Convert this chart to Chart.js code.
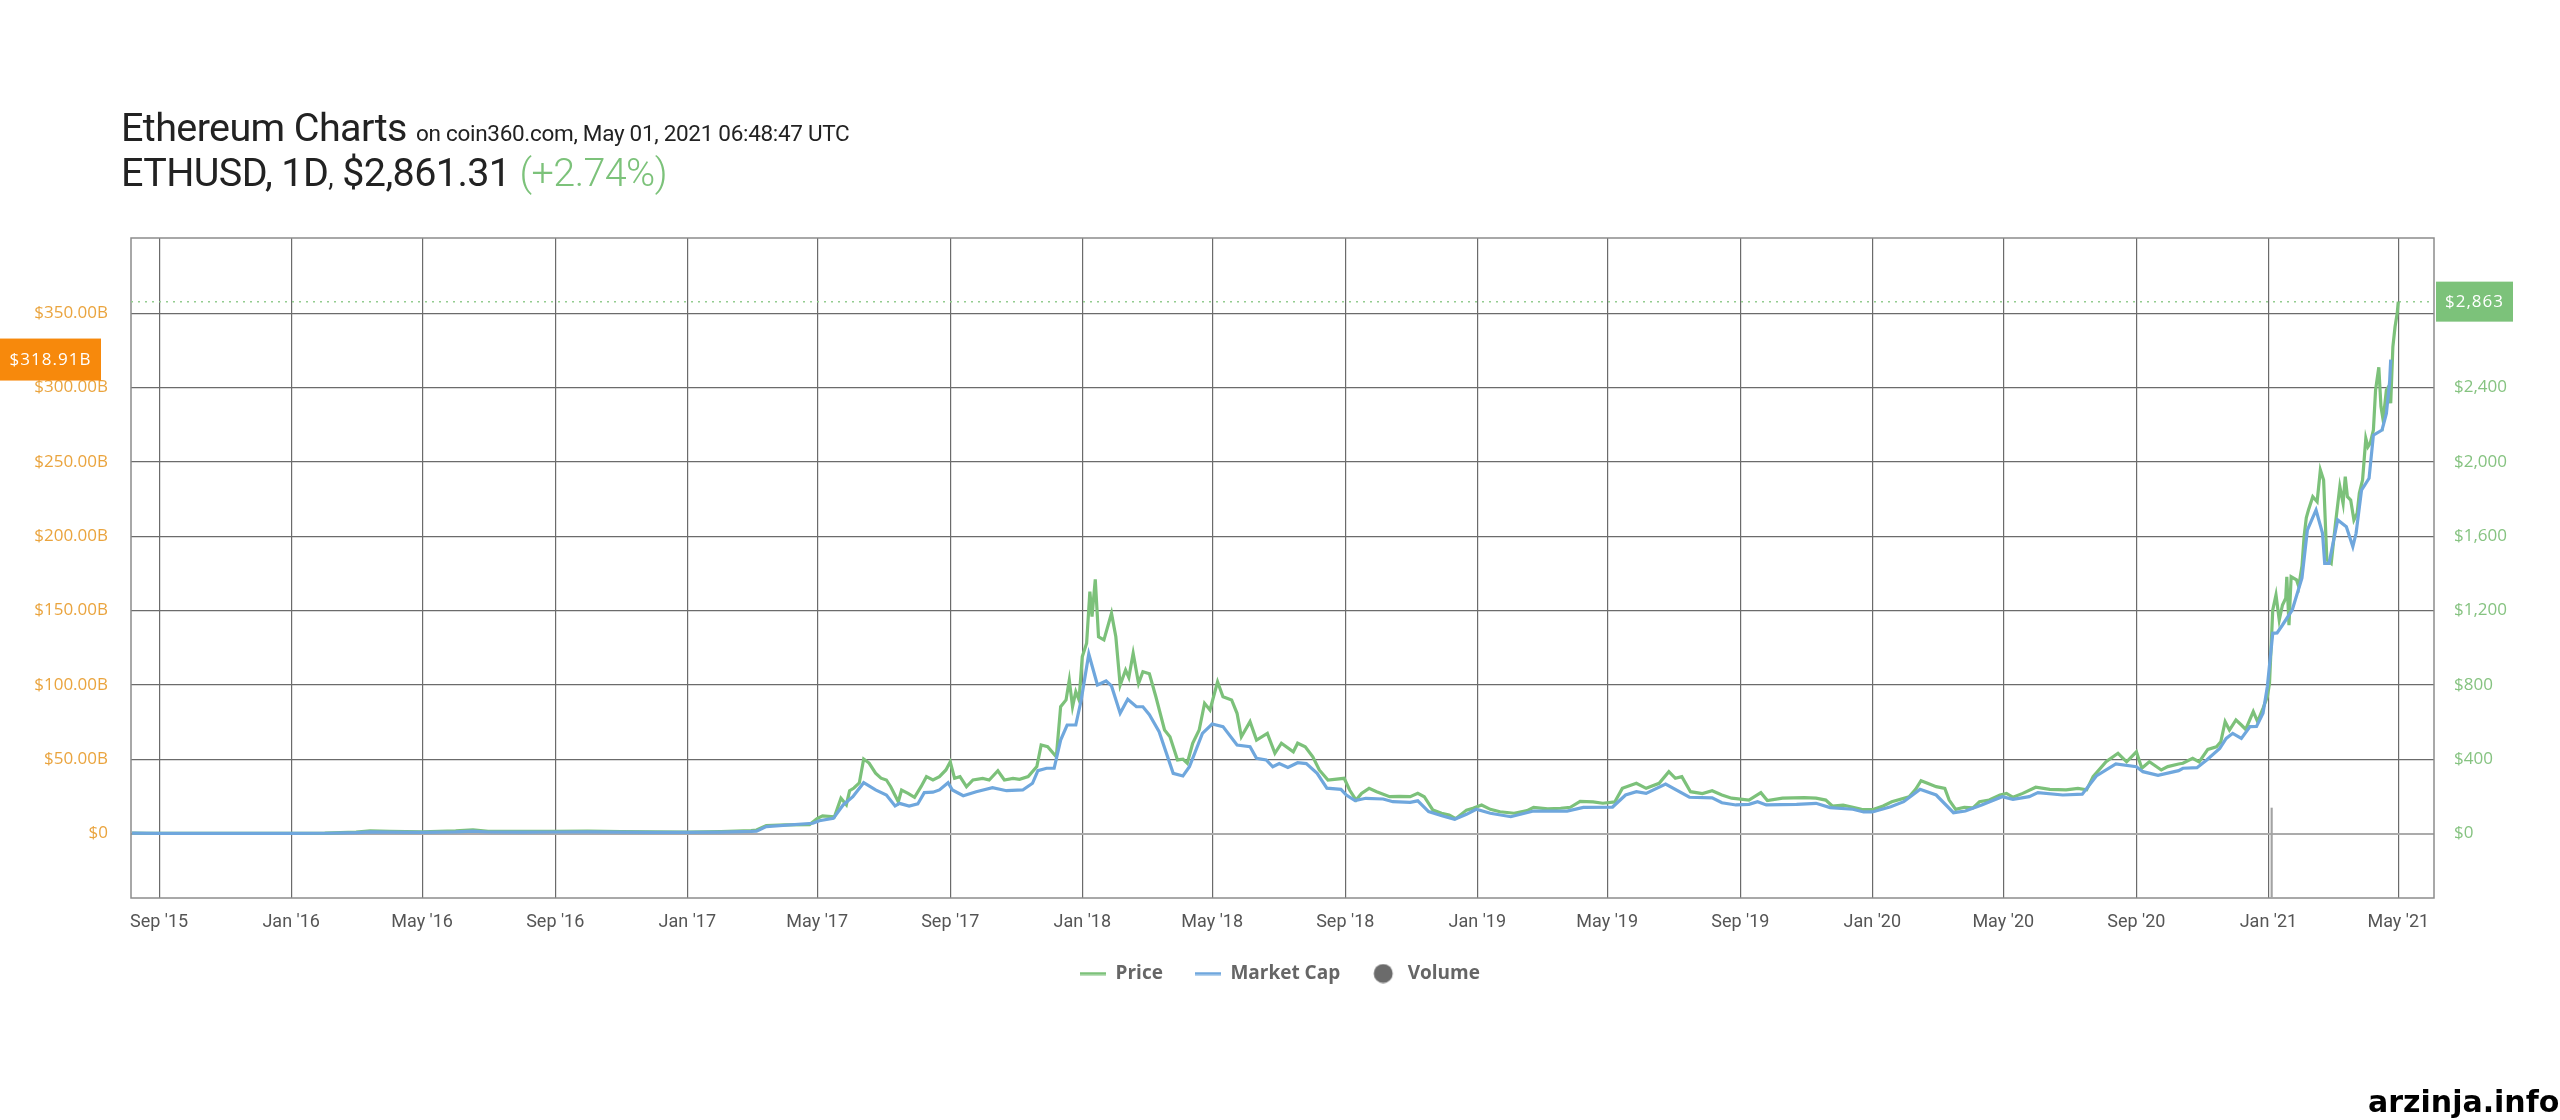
<!DOCTYPE html>
<html>
<head>
<meta charset="utf-8">
<title>Ethereum Charts</title>
<script src="https://cdn.jsdelivr.net/npm/chart.js@4.4.1/dist/chart.umd.min.js"></script>
<style>
  body { margin: 0; background: #fff; }
  #wrap { position: relative; width: 2560px; height: 1120px; overflow: hidden; }
  #chartBox { position: absolute; left: 0; top: 0; width: 2560px; height: 1120px; }
  .head { position: absolute; left: 121px; font-family: Roboto, sans-serif; font-size: 39.5px; line-height: 41px; color: #222; letter-spacing: -0.6px; white-space: nowrap; }
  .head small { font-size: 22.5px; letter-spacing: -0.3px; }
  .up { color: #7cc27a; font-weight: 300; }
  #mark { position: absolute; left: 2368px; top: 1087px; font-family: "DejaVu Sans", sans-serif; font-weight: bold; font-size: 30px; line-height: 30px; color: #000; }
</style>
</head>
<body>
<div id="wrap">
  <div id="chartBox"><canvas id="myChart"></canvas></div>
  <div class="head" style="top:107px">Ethereum Charts <small>on coin360.com, May 01, 2021 06:48:47 UTC</small></div>
  <div class="head" style="top:152px">ETHUSD, 1D<span style="font-size:27px">,</span> $2,861.31 <span class="up">(+2.74%)</span></div>
  <div id="mark">arzinja.info</div>
</div>
<script>
// price, USD per ETH
var priceDates = [
  '2015-08-07','2015-08-20','2015-09-01','2015-10-01','2015-11-01','2015-12-01','2016-01-01','2016-02-01',
  '2016-03-01','2016-03-14','2016-04-01','2016-05-01','2016-06-01','2016-06-17','2016-07-01','2016-08-01',
  '2016-09-01','2016-10-01','2016-11-01','2016-12-01','2017-01-01','2017-02-01','2017-03-01','2017-03-06',
  '2017-03-15','2017-04-02','2017-04-24','2017-05-01','2017-05-06','2017-05-17','2017-05-23','2017-05-28',
  '2017-05-31','2017-06-04','2017-06-09','2017-06-13','2017-06-18','2017-06-24','2017-06-29','2017-07-04',
  '2017-07-08','2017-07-15','2017-07-18','2017-07-24','2017-07-30','2017-08-05','2017-08-10','2017-08-16',
  '2017-08-22','2017-08-28','2017-09-01','2017-09-05','2017-09-10','2017-09-16','2017-09-22','2017-10-01',
  '2017-10-07','2017-10-15','2017-10-21','2017-10-29','2017-11-04','2017-11-12','2017-11-20','2017-11-24',
  '2017-11-30','2017-12-08','2017-12-12','2017-12-17','2017-12-20','2017-12-23','2017-12-26','2017-12-29',
  '2018-01-01','2018-01-05','2018-01-08','2018-01-10','2018-01-13','2018-01-16','2018-01-21','2018-01-28',
  '2018-02-01','2018-02-05','2018-02-10','2018-02-13','2018-02-17','2018-02-22','2018-02-26','2018-03-04',
  '2018-03-10','2018-03-18','2018-03-23','2018-03-30','2018-04-04','2018-04-08','2018-04-13','2018-04-19',
  '2018-04-24','2018-04-29','2018-05-06','2018-05-11','2018-05-19','2018-05-24','2018-05-28','2018-06-05',
  '2018-06-11','2018-06-21','2018-06-28','2018-07-04','2018-07-15','2018-07-19','2018-07-26','2018-08-02',
  '2018-08-08','2018-08-16','2018-08-31','2018-09-05','2018-09-11','2018-09-16','2018-09-23','2018-09-30',
  '2018-10-12','2018-10-21','2018-10-31','2018-11-07','2018-11-13','2018-11-21','2018-11-29','2018-12-06',
  '2018-12-12','2018-12-22','2018-12-28','2019-01-05','2019-01-13','2019-01-22','2019-02-04','2019-02-16',
  '2019-02-22','2019-03-07','2019-03-19','2019-03-28','2019-04-06','2019-04-18','2019-04-27','2019-05-08',
  '2019-05-15','2019-05-28','2019-06-06','2019-06-18','2019-06-27','2019-07-03','2019-07-09','2019-07-17',
  '2019-07-28','2019-08-06','2019-08-15','2019-08-24','2019-09-09','2019-09-20','2019-09-26','2019-10-10',
  '2019-10-30','2019-11-10','2019-11-19','2019-11-25','2019-12-05','2019-12-14','2019-12-22','2020-01-01',
  '2020-01-11','2020-01-19','2020-02-04','2020-02-10','2020-02-15','2020-02-21','2020-02-29','2020-03-08',
  '2020-03-12','2020-03-18','2020-03-26','2020-04-03','2020-04-09','2020-04-18','2020-04-28','2020-05-04',
  '2020-05-10','2020-05-19','2020-05-31','2020-06-13','2020-06-28','2020-07-09','2020-07-17','2020-07-23',
  '2020-08-04','2020-08-15','2020-08-23','2020-09-01','2020-09-06','2020-09-13','2020-09-24','2020-09-30',
  '2020-10-10','2020-10-14','2020-10-23','2020-10-29','2020-11-06','2020-11-14','2020-11-18','2020-11-22',
  '2020-11-26','2020-12-02','2020-12-07','2020-12-11','2020-12-18','2020-12-22','2020-12-27','2020-12-31',
  '2021-01-02','2021-01-05','2021-01-08','2021-01-11','2021-01-14','2021-01-17','2021-01-18','2021-01-20',
  '2021-01-22','2021-01-27','2021-01-29','2021-02-01','2021-02-03','2021-02-05','2021-02-07','2021-02-11',
  '2021-02-15','2021-02-18','2021-02-21','2021-02-24','2021-02-28','2021-03-04','2021-03-08','2021-03-11',
  '2021-03-13','2021-03-15','2021-03-18','2021-03-21','2021-03-24','2021-03-26','2021-03-29','2021-04-01',
  '2021-04-03','2021-04-05','2021-04-08','2021-04-10','2021-04-13','2021-04-15','2021-04-17','2021-04-20',
  '2021-04-22','2021-04-24','2021-04-26','2021-04-28','2021-04-30','2021-05-01'
];
var priceValues = [
  2.8, 1.4, 1.3, 0.7, 1.0, 0.9, 0.95, 2.3,
  7.5, 14.5, 11.5, 8.9, 13.8, 20, 12, 11,
  12, 13, 10.8, 8.3, 8.2, 10.7, 16, 19,
  43, 46, 48, 80, 95, 90, 190, 155,
  230, 245, 273, 401, 379, 325, 298, 288,
  252, 171, 234, 216, 195, 252, 306, 288,
  306, 342, 386, 297, 306, 252, 288, 297,
  288, 338, 288, 297, 292, 306, 360, 476,
  467, 413, 683, 719, 826, 683, 763, 719,
  952, 1024, 1302, 1167, 1368, 1059, 1042, 1185,
  1059, 799, 880, 840, 970, 808, 871, 860,
  736, 557, 521, 396, 400, 378, 486, 557,
  701, 665, 817, 736, 719, 647, 521, 602,
  503, 539, 432, 486, 440, 486, 467, 413,
  342, 288, 297, 234, 180, 216, 243, 225,
  198, 200, 198, 216, 198, 126, 109, 100,
  80, 126, 136, 153, 130, 117, 109, 123,
  141, 133, 136, 141, 173, 170, 163, 170,
  243, 270, 243, 270, 333, 297, 306, 225,
  215, 230, 207, 190, 180, 220, 177, 190,
  193, 190, 180, 148, 153, 141, 130, 128,
  148, 171, 198, 238, 284, 270, 252, 243,
  180, 130, 141, 138, 171, 180, 207, 216,
  195, 216, 249, 238, 235, 243, 235, 306,
  386, 432, 386, 440, 351, 386, 342, 360,
  374, 378, 405, 385, 453, 467, 494, 602,
  557, 611, 584, 560, 656, 602, 674, 736,
  808, 1203, 1284, 1149, 1230, 1266, 1382, 1122,
  1382, 1365, 1330, 1440, 1600, 1700, 1741, 1813,
  1786, 1957, 1903, 1472, 1454, 1670, 1867, 1777,
  1921, 1813, 1795, 1688, 1724, 1831, 1903, 2127,
  2082, 2100, 2172, 2387, 2510, 2298, 2226, 2387,
  2405, 2316, 2620, 2728, 2800, 2863
];

// market cap, billions USD
var capDates = [
  '2015-08-07','2015-09-01','2015-11-01','2016-01-01','2016-02-01','2016-03-01','2016-03-14','2016-04-01',
  '2016-05-01','2016-06-01','2016-06-17','2016-07-01','2016-08-01','2016-09-01','2016-10-01','2016-11-01',
  '2016-12-01','2017-01-01','2017-02-01','2017-03-01','2017-03-06','2017-03-15','2017-04-27','2017-05-03',
  '2017-05-16','2017-05-25','2017-06-03','2017-06-13','2017-06-24','2017-07-04','2017-07-12','2017-07-16',
  '2017-07-25','2017-08-02','2017-08-08','2017-08-16','2017-08-22','2017-08-30','2017-09-03','2017-09-13',
  '2017-09-25','2017-10-10','2017-10-23','2017-11-07','2017-11-16','2017-11-21','2017-11-29','2017-12-06',
  '2017-12-12','2017-12-18','2017-12-26','2017-12-31','2018-01-07','2018-01-15','2018-01-23','2018-01-28',
  '2018-02-05','2018-02-12','2018-02-20','2018-02-26','2018-03-04','2018-03-13','2018-03-26','2018-04-04',
  '2018-04-10','2018-04-22','2018-05-01','2018-05-11','2018-05-24','2018-06-05','2018-06-11','2018-06-20',
  '2018-06-26','2018-07-02','2018-07-10','2018-07-19','2018-07-27','2018-08-06','2018-08-15','2018-08-28',
  '2018-09-02','2018-09-10','2018-09-20','2018-10-06','2018-10-15','2018-10-31','2018-11-07','2018-11-17',
  '2018-11-30','2018-12-11','2018-12-22','2018-12-31','2019-01-13','2019-02-01','2019-02-22','2019-03-25',
  '2019-04-09','2019-05-06','2019-05-18','2019-05-28','2019-06-06','2019-06-24','2019-07-16','2019-08-06',
  '2019-08-15','2019-08-28','2019-09-09','2019-09-17','2019-09-25','2019-10-23','2019-11-10','2019-11-23',
  '2019-12-14','2019-12-24','2020-01-01','2020-01-18','2020-01-30','2020-02-14','2020-02-29','2020-03-16',
  '2020-03-27','2020-04-11','2020-04-30','2020-05-10','2020-05-25','2020-06-02','2020-06-25','2020-07-13',
  '2020-07-26','2020-08-13','2020-09-01','2020-09-07','2020-09-21','2020-10-10','2020-10-14','2020-10-27',
  '2020-11-05','2020-11-17','2020-11-23','2020-11-29','2020-12-07','2020-12-15','2020-12-21','2020-12-27',
  '2020-12-31','2021-01-05','2021-01-09','2021-01-14','2021-01-23','2021-02-01','2021-02-06','2021-02-14',
  '2021-02-20','2021-02-22','2021-02-26','2021-03-06','2021-03-14','2021-03-20','2021-03-23','2021-03-28',
  '2021-04-04','2021-04-08','2021-04-16','2021-04-20','2021-04-23','2021-04-24'
];
var capValues = [
  0.2, 0.1, 0.07, 0.07, 0.18, 0.6, 1.1, 0.9,
  0.75, 1.1, 1.6, 1.0, 0.9, 1.0, 1.1, 0.9,
  0.7, 0.7, 0.95, 1.4, 1.6, 4.6, 6.9, 8.6,
  10.2, 19.2, 24.8, 34.2, 29.3, 25.9, 18.5, 20.3,
  18.5, 19.9, 27.5, 27.8, 29.3, 34.2, 29.3, 25.4,
  28.1, 30.8, 28.8, 29.3, 33.8, 42.3, 43.9, 43.9,
  62.9, 73, 73, 89.8, 120.8, 99.9, 102.6, 99.3,
  80.9, 90.3, 85.3, 85.3, 80, 68.5, 40.5, 38.7,
  44.9, 67.4, 73.7, 71.9, 59.5, 58.4, 50.6, 49.5,
  44.9, 47.1, 44.5, 47.6, 47, 40.5, 30.5, 29.7,
  25.9, 22.1, 23.7, 23.2, 21.4, 21, 22, 14.7,
  11.8, 9.6, 12.9, 16.3, 13.6, 11.3, 15.1, 15.1,
  17.6, 17.8, 25.9, 28.1, 27, 33.3, 24.4, 24,
  20.7, 19.2, 19.6, 21.4, 19.2, 19.6, 20.3, 17.4,
  16.3, 14.5, 14.5, 18, 21.4, 29.7, 25.9, 14,
  15.1, 19.2, 24.8, 23, 24.8, 27.5, 25.9, 26.5,
  38.7, 46.8, 44.9, 41.6, 39.2, 42.3, 43.9, 44.3,
  49.5, 57.3, 64, 67.4, 64, 71.9, 72, 80.9,
  98.8, 134.7, 135, 140.3, 150.4, 172, 204.2, 217.7,
  202, 181.8, 181.8, 211, 206.4, 193, 202, 231,
  239, 268, 271.5, 282.7, 304, 318.91
];

// volume, billions USD (only one bar rises off the floor)
var volumeDates = ['2021-01-04'];
var volumeValues = [60];

// axis ticks
var capTicks = [0, 50, 100, 150, 200, 250, 300, 350];
var priceTicks = [0, 400, 800, 1200, 1600, 2000, 2400, 2800];
var tickMonths = ['Jan', 'May', 'Sep'];
var legendNames = ['Price', 'Market Cap', 'Volume'];

var GREEN = '#7cc17a';
var BLUE = '#6fa7dd';
var GREY = '#6b6b6b';

function points(dates, values) {
  return dates.map(function (d, i) { return {x: Date.parse(d), y: values[i]}; });
}

var xMin = Date.parse('2015-08-06');
var xMax = Date.parse('2021-06-03');
var lastPrice = priceValues[priceValues.length - 1];
var lastCap = capValues[capValues.length - 1];

// little legend icons
function lineIcon(color) {
  var c = document.createElement('canvas');
  c.width = 26; c.height = 4;
  var g = c.getContext('2d');
  g.fillStyle = color;
  g.fillRect(0, 0.5, 26, 3);
  return c;
}
function dotIcon(color) {
  var c = document.createElement('canvas');
  c.width = 26; c.height = 20;
  var g = c.getContext('2d');
  g.fillStyle = color;
  g.beginPath();
  g.arc(11, 10, 9.5, 0, Math.PI * 2);
  g.fill();
  return c;
}
var legendIcons = [lineIcon(GREEN), lineIcon(BLUE), dotIcon(GREY)];

function tag(ctx, text, x, y, w, h, bg) {
  ctx.fillStyle = bg;
  ctx.fillRect(x, y - h / 2, w, h);
  ctx.fillStyle = '#fff';
  ctx.font = '17px "Open Sans"';
  ctx.letterSpacing = '1px';
  ctx.textAlign = 'center';
  ctx.textBaseline = 'middle';
  ctx.fillText(text, x + w / 2, y + 1);
  ctx.letterSpacing = '0px';
}

var extras = {
  id: 'extras',
  beforeDatasetsDraw: function (chart) {
    var a = chart.chartArea, ctx = chart.ctx;
    ctx.save();
    ctx.strokeStyle = '#8c8c8c';
    ctx.lineWidth = 1.5;
    ctx.strokeRect(a.left, a.top, a.right - a.left, a.bottom - a.top);
    var yp = chart.scales.y1.getPixelForValue(lastPrice);
    ctx.setLineDash([2, 5]);
    ctx.strokeStyle = '#93cc8f';
    ctx.lineWidth = 1.5;
    ctx.beginPath();
    ctx.moveTo(a.left, yp);
    ctx.lineTo(a.right, yp);
    ctx.stroke();
    ctx.restore();
  },
  afterDraw: function (chart) {
    var a = chart.chartArea, ctx = chart.ctx;
    ctx.save();
    tag(ctx, '$' + lastCap.toFixed(2) + 'B', 0, chart.scales.y.getPixelForValue(lastCap), 101, 42, '#f7890c');
    tag(ctx, '$' + lastPrice.toLocaleString('en-US'), a.right + 2, chart.scales.y1.getPixelForValue(lastPrice), 77, 40, '#7cc27a');
    ctx.restore();
  }
};

var data = {
  datasets: [
    {
      label: 'Price',
      data: points(priceDates, priceValues),
      yAxisID: 'y1',
      borderColor: GREEN,
      borderWidth: 3.2,
      pointRadius: 0,
      tension: 0,
      order: 1
    },
    {
      label: 'Market Cap',
      data: points(capDates, capValues),
      yAxisID: 'y',
      borderColor: BLUE,
      borderWidth: 3.2,
      pointRadius: 0,
      tension: 0,
      order: 0
    },
    {
      type: 'bar',
      label: 'Volume',
      data: points(volumeDates, volumeValues),
      yAxisID: 'yv',
      backgroundColor: '#a3a3a3',
      barThickness: 1.5,
      order: 2
    }
  ]
};

var config = {
  type: 'line',
  data: data,
  plugins: [extras],
  options: {
    responsive: true,
    maintainAspectRatio: false,
    animation: false,
    layout: { padding: { left: 0, right: 0, top: 238, bottom: 127 } },
    plugins: {
      tooltip: { enabled: false },
      legend: {
        position: 'bottom',
        labels: {
          usePointStyle: true,
          pointStyleWidth: 26,
          boxHeight: 19,
          padding: 32,
          color: '#666',
          font: { family: 'Open Sans', size: 19, weight: 'bold' },
          generateLabels: function () {
            return legendNames.map(function (name, i) {
              return { text: name, fontColor: '#666', pointStyle: legendIcons[i], fillStyle: '#fff', strokeStyle: '#fff', lineWidth: 0, datasetIndex: i, hidden: false };
            });
          }
        }
      }
    },
    scales: {
      x: {
        type: 'linear',
        min: xMin,
        max: xMax,
        offset: false,
        afterBuildTicks: function (scale) {
          var t = [];
          for (var y = 2015; y <= 2021; y++) {
            [0, 4, 8].forEach(function (m) {
              var v = Date.UTC(y, m, 1);
              if (v >= xMin && v <= xMax) t.push({value: v});
            });
          }
          scale.ticks = t;
        },
        afterFit: function (scale) { scale.height = 34; },
        grid: { color: GREY, lineWidth: 1.2, drawTicks: false, offset: false },
        border: { display: false },
        ticks: {
          autoSkip: false,
          maxRotation: 0,
          color: '#555',
          padding: 14,
          font: { family: 'Roboto', size: 18 },
          callback: function (v) {
            var d = new Date(v);
            return tickMonths[d.getUTCMonth() / 4] + " '" + String(d.getUTCFullYear()).slice(2);
          }
        }
      },
      y: {
        position: 'left',
        min: -43.4,
        max: 400.7,
        afterBuildTicks: function (scale) {
          scale.ticks = capTicks.map(function (v) { return {value: v}; });
        },
        afterFit: function (scale) { scale.width = 131; },
        grid: {
          drawTicks: false,
          color: function (c) { return c.tick && c.tick.value === 0 ? '#ababab' : GREY; },
          lineWidth: function (c) { return c.tick && c.tick.value === 0 ? 2 : 1.2; }
        },
        border: { display: false },
        ticks: {
          color: '#eaa43e',
          padding: 23,
          font: { family: 'Open Sans', size: 17 },
          callback: function (v) { return v === 0 ? '$0' : '$' + v.toFixed(2) + 'B'; }
        }
      },
      y1: {
        position: 'right',
        min: -347.2,
        max: 3205.6,
        afterBuildTicks: function (scale) {
          scale.ticks = priceTicks.map(function (v) { return {value: v}; });
        },
        afterFit: function (scale) { scale.width = 126; },
        grid: { display: false },
        border: { display: false },
        ticks: {
          color: '#86c381',
          padding: 12,
          font: { family: 'Open Sans', size: 17 },
          callback: function (v) { return '$' + v.toLocaleString('en-US'); }
        }
      },
      yv: {
        display: false,
        min: 0,
        max: 440
      }
    }
  }
};

var ctx = document.getElementById('myChart');
var myChart = new Chart(ctx, config);
</script>
</body>
</html>
